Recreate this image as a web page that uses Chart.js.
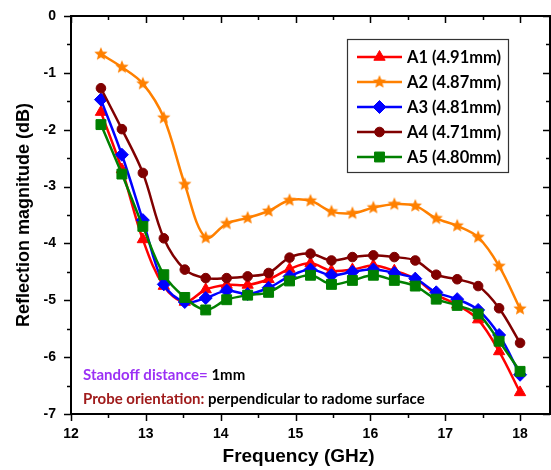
<!DOCTYPE html>
<html>
<head>
<meta charset="utf-8">
<script src="https://cdn.jsdelivr.net/npm/chart.js@4/dist/chart.umd.min.js"></script>
<style>
  html, body { margin: 0; padding: 0; background: #fff; }
</style>
</head>
<body>
<canvas id="reflChart" width="551" height="470"></canvas>
<script>
// frequency points (GHz) where markers sit
var freq = [12.4, 12.68, 12.96, 13.24, 13.52, 13.8, 14.08, 14.36, 14.64, 14.92, 15.2,
            15.48, 15.76, 16.04, 16.32, 16.6, 16.88, 17.16, 17.44, 17.72, 18.0];

// reflection magnitude (dB) for each sample
var a1 = [-1.69, -2.70, -3.93, -4.75, -5.03, -4.81, -4.73, -4.73, -4.63, -4.45, -4.35,
          -4.48, -4.46, -4.39, -4.48, -4.62, -4.90, -5.08, -5.34, -5.90, -6.62];
var a2 = [-0.67, -0.90, -1.19, -1.79, -2.96, -3.90, -3.65, -3.55, -3.43, -3.24, -3.25,
          -3.44, -3.47, -3.37, -3.31, -3.34, -3.56, -3.69, -3.89, -4.40, -5.15];
var a3 = [-1.47, -2.44, -3.59, -4.72, -5.03, -4.96, -4.83, -4.89, -4.78, -4.58, -4.46,
          -4.56, -4.50, -4.46, -4.52, -4.62, -4.86, -4.98, -5.17, -5.61, -6.31];
var a4 = [-1.27, -1.99, -2.76, -3.91, -4.46, -4.61, -4.61, -4.58, -4.52, -4.25, -4.18,
          -4.30, -4.24, -4.21, -4.24, -4.30, -4.55, -4.63, -4.75, -5.14, -5.75];
var a5 = [-1.91, -2.78, -3.70, -4.55, -4.95, -5.17, -4.99, -4.91, -4.86, -4.66, -4.56,
          -4.72, -4.65, -4.56, -4.65, -4.75, -4.98, -5.09, -5.24, -5.72, -6.25];

var seriesNames = ['A1 (4.91mm)', 'A2 (4.87mm)', 'A3 (4.81mm)', 'A4 (4.71mm)', 'A5 (4.80mm)'];
var xTicks = [12, 13, 14, 15, 16, 17, 18];
var yTicks = [0, -1, -2, -3, -4, -5, -6, -7];

//filled five point star used for A2 markers
function makeStar(color, r) {
    var c = document.createElement('canvas');
    var s = Math.ceil(r * 2 + 2);
    c.width = s;
    c.height = s;
    var g = c.getContext('2d');
    g.beginPath();
    for (var i = 0; i < 10; i++) {
        var rad = i % 2 === 0 ? r : r * 0.45;
        var ang = -Math.PI / 2 + i * Math.PI / 5;
        var px = s / 2 + rad * Math.cos(ang), py = s / 2 + rad * Math.sin(ang);
        if (i === 0) g.moveTo(px, py); else g.lineTo(px, py);
    }
    g.closePath();
    g.fillStyle = color;
    g.fill();
    return c;
}
var starImg = makeStar('#ff8000', 7);

function toPoints(vals) {
    return freq.map(function (f, i) { return {x: f, y: vals[i]}; });
}

var styles = [
    {color: '#ff0000', point: 'triangle', radius: 6.5},
    {color: '#ff8000', point: starImg, radius: 7},
    {color: '#0000ff', point: 'rectRot', radius: 6.5},
    {color: '#800000', point: 'circle', radius: 4.8},
    {color: '#008000', point: 'rect', radius: 7}
];
var allSeries = [a1, a2, a3, a4, a5];

const dataSets = allSeries.map(function (vals, i) {
    return {
        label: seriesNames[i],
        data: toPoints(vals),
        borderColor: styles[i].color,
        backgroundColor: styles[i].color,
        pointBackgroundColor: styles[i].color,
        pointBorderColor: styles[i].color,
        borderWidth: 2.5,
        pointStyle: styles[i].point,
        pointRadius: styles[i].radius,
        pointBorderWidth: 1,
        tension: 0.35,
        clip: false,
        order: 5 - i
    };
});

const axisFont = {family: '"Liberation Sans", Arial, sans-serif', size: 14, weight: 'bold'};

// frame, ticks, titles, notes and legend
const decorPlugin = {
    id: 'decor',
    afterDraw: function (chart) {
        var ctx = chart.ctx, area = chart.chartArea;
        var xs = chart.scales.x, ys = chart.scales.y;
        ctx.save();
        ctx.strokeStyle = '#000';
        ctx.lineWidth = 2;
        ctx.strokeRect(area.left, area.top, area.right - area.left, area.bottom - area.top);

        ctx.lineWidth = 1.5;
        ctx.beginPath();
        for (var v = 12; v <= 18.41; v += 0.5) {
            var px = Math.round(xs.getPixelForValue(v)) + 0.5;
            var major = Math.abs(v - Math.round(v)) < 0.01;
            var len = major ? 7 : 4;
            ctx.moveTo(px, area.bottom); ctx.lineTo(px, area.bottom + len);
            ctx.moveTo(px, area.top); ctx.lineTo(px, area.top + len);
        }
        for (var w = -7; w <= 0.01; w += 0.5) {
            var py = Math.round(ys.getPixelForValue(w)) + 0.5;
            var majorY = Math.abs(w - Math.round(w)) < 0.01;
            var lenY = majorY ? 7 : 4;
            ctx.moveTo(area.left, py); ctx.lineTo(area.left - lenY, py);
            ctx.moveTo(area.right, py); ctx.lineTo(area.right - lenY, py);
        }
        ctx.stroke();

        // axis titles
        ctx.fillStyle = '#000';
        ctx.font = 'bold 19px "Liberation Sans", Arial, sans-serif';
        ctx.textAlign = 'center';
        ctx.textBaseline = 'middle';
        ctx.fillText('Frequency (GHz)', (xs.getPixelForValue(12) + xs.getPixelForValue(18)) / 2 + 3, 457);
        ctx.font = 'bold 18px "Liberation Sans", Arial, sans-serif';
        ctx.save();
        ctx.translate(24, (area.top + area.bottom) / 2);
        ctx.rotate(-Math.PI / 2);
        ctx.fillText('Reflection magnitude (dB)', 0, 0);
        ctx.restore();

        // notes at lower left
        ctx.textAlign = 'left';
        ctx.textBaseline = 'middle';
        var parts = [
            [83, 375, [['Standoff distance= ', '#9b30f5'], ['1mm', '#000']]],
            [83, 399, [['Probe orientation: ', '#a01c1c'], ['perpendicular to radome surface', '#000']]]
        ];
        ctx.font = 'bold 15px Lato, sans-serif';
        parts.forEach(function (line) {
            var x = line[0];
            line[2].forEach(function (p) {
                ctx.fillStyle = p[1];
                ctx.fillText(p[0], x, line[1]);
                x += ctx.measureText(p[0]).width;
            });
        });

        // legend box
        var bx = 347, by = 39, bw = 161, bh = 133;
        ctx.fillStyle = '#fff';
        ctx.fillRect(bx, by, bw, bh);
        ctx.strokeStyle = '#333';
        ctx.lineWidth = 1.2;
        ctx.strokeRect(bx + 0.5, by + 0.5, bw, bh);
        ctx.font = 'bold 16.5px Lato, sans-serif';
        ctx.textBaseline = 'middle';
        for (var i = 0; i < 5; i++) {
            var ly = 57 + i * 25;
            ctx.strokeStyle = styles[i].color;
            ctx.fillStyle = styles[i].color;
            ctx.lineWidth = 2.5;
            ctx.beginPath();
            ctx.moveTo(357, ly); ctx.lineTo(402, ly);
            ctx.stroke();
            ctx.lineWidth = 1;
            Chart.helpers.drawPoint(ctx, {pointStyle: styles[i].point, radius: styles[i].radius, rotation: 0, borderWidth: 1}, 379.5, ly);
            ctx.fillStyle = '#000';
            ctx.fillText(seriesNames[i], 407, ly + 1);
        }
        ctx.restore();
    }
};

const reflChart = new Chart(document.getElementById('reflChart'), {
    type: 'line',
    data: {datasets: dataSets},
    options: {
        responsive: false,
        animation: false,
        layout: {autoPadding: false, padding: {left: 0, right: 1, top: 16, bottom: 0}},
        plugins: {legend: {display: false}, tooltip: {enabled: false}},
        scales: {
            x: {
                type: 'linear',
                min: 12,
                max: 18.4,
                grid: {display: false, drawTicks: false},
                border: {display: false},
                ticks: {
                    stepSize: 1,
                    includeBounds: false,
                    color: '#000',
                    font: axisFont,
                    padding: 12,
                    maxRotation: 0,
                    callback: function (v) { return xTicks.indexOf(v) >= 0 ? String(v) : ''; }
                },
                //fixed band height, no extra side padding from labels
                afterFit: function (scale) {
                    scale.height = 56;
                    scale.paddingLeft = 0;
                    scale.paddingRight = 0;
                }
            },
            y: {
                type: 'linear',
                min: -7,
                max: 0,
                grid: {display: false, drawTicks: false},
                border: {display: false},
                ticks: {
                    stepSize: 1,
                    color: '#000',
                    font: axisFont,
                    padding: 15,
                    callback: function (v) { return yTicks.indexOf(v) >= 0 ? String(v) : ''; }
                },
                afterFit: function (scale) {
                    scale.width = 71;
                    scale.paddingTop = 0;
                    scale.paddingBottom = 0;
                }
            }
        }
    },
    plugins: [decorPlugin]
});
</script>
</body>
</html>
